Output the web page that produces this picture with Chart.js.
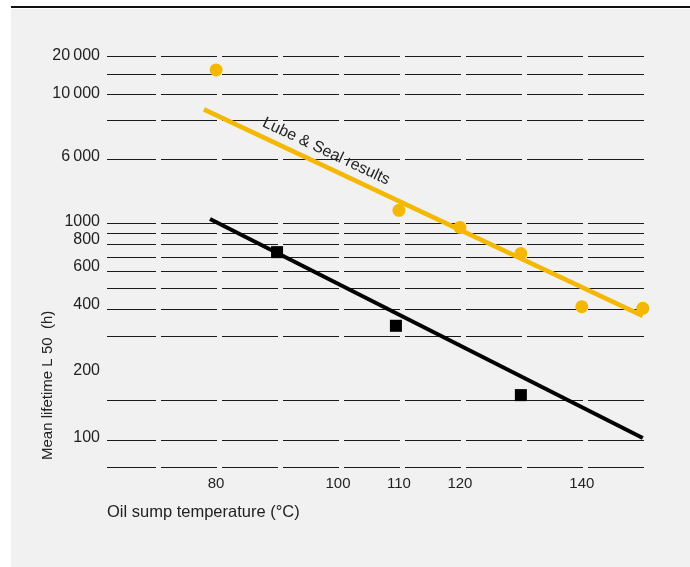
<!DOCTYPE html>
<html>
<head>
<meta charset="utf-8">
<script src="https://cdn.jsdelivr.net/npm/chart.js@4.4.1/dist/chart.umd.min.js"></script>
<style>
    html, body { margin: 0; padding: 0; background: #fff; }
    canvas { display: block; }
</style>
</head>
<body>
<canvas id="graph" width="690" height="567"></canvas>
<script>
// Lube & Seal results (yellow dots + fit)
const lubeTemp = [80, 110, 120, 130, 140, 150]
const lubeHours = [16300, 1900, 940, 700, 395, 390]
const lubeFitTemp = [78, 150]
const lubeFitHours = [9000, 367]

// reference (black squares + fit)
const refTemp = [90, 109.5, 130]
const refHours = [710, 337, 164]
const refFitTemp = [79, 150]
const refFitHours = [1230, 100]

// axis labels
const xTicks = [80, 100, 110, 120, 140]
const yTickHours = [20000, 10000, 6000, 1000, 800, 600, 400, 200, 100]
const yTickLabels = ["20\u2009000", "10\u2009000", "6\u2009000", "1000", "800", "600", "400", "200", "100"]

// the printed y axis is not a true scale: depth of each label below the top rule
const yTickDepth = [0, 37.5, 101, 166, 184, 211, 249, 315, 382]
const gridDepth = [0, 18, 38, 64, 103, 167, 177, 188, 201, 215, 232, 253, 280, 344, 384, 411]

const yellow = "rgb(245,184,0)"
const ink = "#222"
const fontFamily = "'Liberation Sans', Arial, Helvetica, sans-serif"

function depth(h) {
    for (let i = 0; i < yTickHours.length - 1; i++) {
        const a = yTickHours[i], b = yTickHours[i + 1]
        if (h <= a && h >= b) {
            return yTickDepth[i] + (a - h) / (a - b) * (yTickDepth[i + 1] - yTickDepth[i])
        }
    }
    return h > yTickHours[0] ? yTickDepth[0] : yTickDepth[yTickDepth.length - 1]
}

function points(temps, hours) {
    return temps.map((t, i) => ({ x: t, y: depth(hours[i]) }))
}

const labelAt = new Map()
yTickDepth.forEach((d, i) => labelAt.set(d, yTickLabels[i]))
const gridSet = new Set(gridDepth)
const yTickValues = Array.from(new Set(gridDepth.concat(yTickDepth))).sort((a, b) => a - b)

const background = {
    id: "background",
    beforeDraw(chart) {
        const c = chart.ctx
        c.save()
        c.fillStyle = "#fff"
        c.fillRect(0, 0, chart.width, chart.height)
        c.fillStyle = "#f1f1f1"
        c.fillRect(11, 9, chart.width - 11, chart.height - 9)
        c.fillStyle = "#111"
        c.fillRect(11, 6, chart.width - 11, 2)
        c.restore()
    },
}

// rotated texts: the fit label and the y axis title
const annotations = {
    id: "annotations",
    afterDatasetsDraw(chart) {
        const xs = chart.scales.x, ys = chart.scales.y
        const x1 = xs.getPixelForValue(lubeFitTemp[0]), y1 = ys.getPixelForValue(depth(lubeFitHours[0]))
        const x2 = xs.getPixelForValue(lubeFitTemp[1]), y2 = ys.getPixelForValue(depth(lubeFitHours[1]))
        const dx = x2 - x1, dy = y2 - y1
        const len = Math.hypot(dx, dy)
        const t = 0.265
        const cx = x1 + dx * t + (dy / len) * 14
        const cy = y1 + dy * t - (dx / len) * 14
        const c = chart.ctx
        c.save()
        c.translate(cx, cy)
        c.rotate(Math.atan2(dy, dx))
        c.fillStyle = ink
        c.font = "16px " + fontFamily
        c.textAlign = "center"
        c.textBaseline = "middle"
        c.fillText("Lube & Seal results", 0, 0)
        c.restore()

        c.save()
        c.translate(48, chart.chartArea.bottom - 7)
        c.rotate(-Math.PI / 2)
        c.fillStyle = ink
        c.font = "15px " + fontFamily
        c.textAlign = "left"
        c.textBaseline = "middle"
        c.fillText("Mean lifetime L 50  (h)", 0, 0)
        c.restore()
    },
}

const chartID = document.getElementById("graph").getContext("2d")
const graphic = new Chart(chartID, {
    type: "scatter",
    data: {
        datasets: [
            {
                label: "Lube & Seal results",
                data: points(lubeTemp, lubeHours),
                backgroundColor: yellow,
                borderWidth: 0,
                pointRadius: 6.5,
                pointStyle: "circle",
                clip: false,
            },
            {
                label: "Reference",
                data: points(refTemp, refHours),
                backgroundColor: "#000",
                borderWidth: 0,
                pointRadius: 8.5,
                pointStyle: "rect",
                clip: false,
            },
            {
                label: "Lube & Seal fit",
                data: points(lubeFitTemp, lubeFitHours),
                showLine: true,
                borderColor: yellow,
                borderWidth: 4.5,
                pointRadius: 0,
                clip: false,
            },
            {
                label: "Reference fit",
                data: points(refFitTemp, refFitHours),
                showLine: true,
                borderColor: "#000",
                borderWidth: 4,
                pointRadius: 0,
                clip: false,
            },
        ],
    },
    options: {
        responsive: false,
        animation: false,
        events: [],
        layout: { padding: { left: 0, right: 46, top: 56, bottom: 40 } },
        plugins: {
            legend: { display: false },
            tooltip: { enabled: false },
        },
        scales: {
            x: {
                type: "linear",
                min: 62.1,
                max: 150.2,
                grid: { display: false, drawTicks: false },
                border: { display: false },
                afterBuildTicks: (s) => { s.ticks = xTicks.map((v) => ({ value: v })) },
                afterFit: (s) => { s.height = 60 },
                ticks: {
                    autoSkip: false,
                    maxRotation: 0,
                    padding: 8,
                    color: ink,
                    font: { family: fontFamily, size: 15 },
                    callback: (v) => String(v),
                },
                title: {
                    display: true,
                    text: "Oil sump temperature (°C)",
                    align: "start",
                    color: ink,
                    font: { family: fontFamily, size: 16.5 },
                    padding: { top: 0, bottom: 5 },
                },
            },
            y: {
                type: "linear",
                reverse: true,
                min: 0,
                max: 411,
                grid: {
                    drawTicks: false,
                    lineWidth: 1,
                    color: (ctx) => (ctx.tick && gridSet.has(ctx.tick.value) ? "#1a1a1a" : "rgba(0,0,0,0)"),
                },
                border: { display: false, dash: [56, 5], dashOffset: 7 },
                afterBuildTicks: (s) => { s.ticks = yTickValues.map((v) => ({ value: v })) },
                afterFit: (s) => { s.width = 107 },
                ticks: {
                    autoSkip: false,
                    padding: 7,
                    color: ink,
                    font: { family: fontFamily, size: 16 },
                    callback: (v) => labelAt.get(v) || "",
                },
            },
        },
    },
    plugins: [background, annotations],
})
</script>
</body>
</html>
